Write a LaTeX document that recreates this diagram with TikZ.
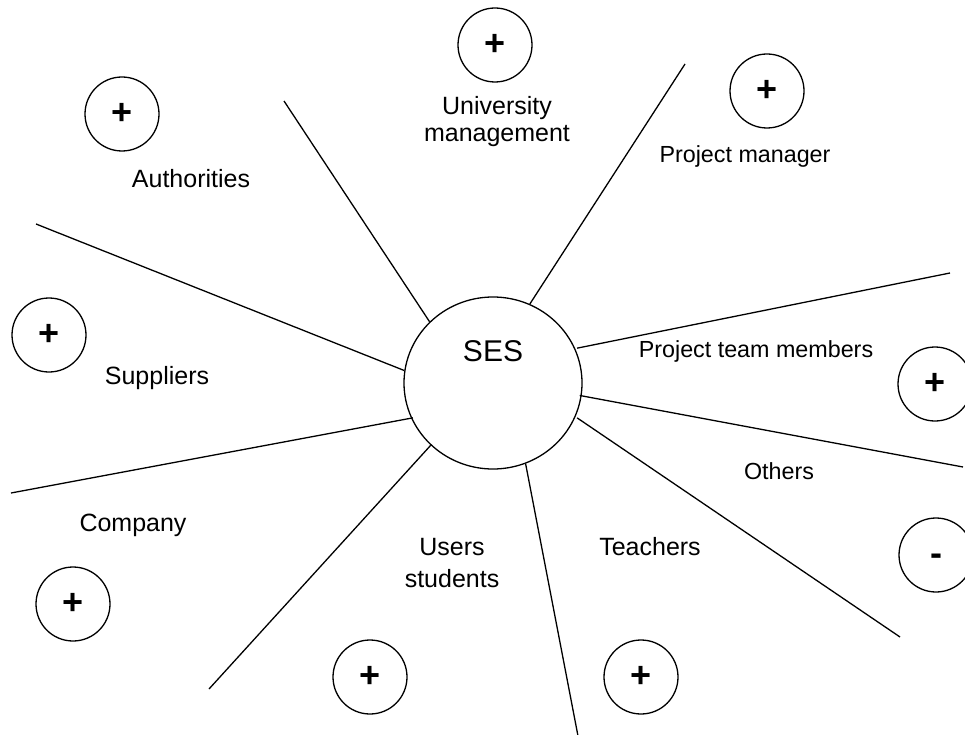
\documentclass[tikz,border=0pt]{standalone}
\usepackage{fontspec}
\setmainfont{Liberation Sans}
\usetikzlibrary{shapes.geometric,calc}
\newcommand\mylbl{\fontsize{25}{30}\selectfont}
\newcommand\mysmall{\fontsize{23.3}{28}\selectfont}
\tikzset{
  sign/.style={circle, draw, line width=1.3pt, minimum size=74pt, inner sep=0pt,
               font=\bfseries\fontsize{36}{36}\selectfont},
  lbl/.style={anchor=base, inner sep=0pt, font=\mylbl},
  lbls/.style={anchor=base, inner sep=0pt, font=\mysmall},
  spoke/.style={line width=1.3pt},
}
\begin{document}
\begin{tikzpicture}[x=1pt,y=-1pt]
\clip (0,0) rectangle (965,735);
\fill[white] (0,0) rectangle (965,735);
% central ellipse
\node[ellipse, draw, line width=1.3pt, minimum width=178pt, minimum height=172pt, inner sep=0pt] (ses) at (493,383) {};
\node[anchor=base, inner sep=0pt, font=\fontsize{30}{32}\selectfont] (sestext) at (493,361) {SES};
% outer ends
\coordinate (e1) at (284,101);
\coordinate (e2) at (685,64);
\coordinate (e3) at (950,273);
\coordinate (e4) at (963,467);
\coordinate (e5) at (900,637);
\coordinate (e6) at (578,736);
\coordinate (e7) at (209,689);
\coordinate (e8) at (11,493);
\coordinate (e9) at (36,224);
% spokes
\draw[spoke] (ses.136) -- (e1);
\draw[spoke] (ses.65) -- (e2);
\draw[spoke] ($(ses.23)+(2,0)$) -- (e3);
\draw[spoke] ($(ses.-8.7)+(-2,0)$) -- (e4);
\draw[spoke] ($(ses.-23)+(2,0)$) -- (e5);
\draw[spoke] (ses.-68) -- (e6);
\draw[spoke] (ses.225.5) -- (e7);
\draw[spoke] ($(ses.203)+(2,0)$) -- (e8);
\draw[spoke] (ses.172) -- (e9);
% sign circles
\node[sign] (sauth) at (122,114) {+};
\node[sign] (suniv) at (495,45) {+};
\node[sign] (spm) at (767,91) {+};
\node[sign] (sptm) at (935,384) {+};
\node[sign] (soth) at (936,555) {\vphantom{+}-};
\node[sign] (ssupp) at (49,335) {+};
\node[sign] (scomp) at (73,604) {+};
\node[sign] (susers) at (370,677) {+};
\node[sign] (steach) at (641,677) {+};
% labels
\node[lbl] (univ1) at (497,115) {University};
\node[lbl] (univ2) at (497,142) {management};
\node[lbl] (auth) at (191,188) {Authorities};
\node[lbls] (pm) at (745,163) {Project manager};
\node[lbls] (ptm) at (756,357) {Project team members};
\node[lbls] (oth) at (779,479) {Others};
\node[lbl] (supp) at (157,384) {Suppliers};
\node[lbl] (comp) at (133,531) {Company};
\node[lbl] (users1) at (452,555) {Users};
\node[lbl] (users2) at (452,587) {students};
\node[lbl] (teach) at (650,555) {Teachers};
\end{tikzpicture}
\end{document}
